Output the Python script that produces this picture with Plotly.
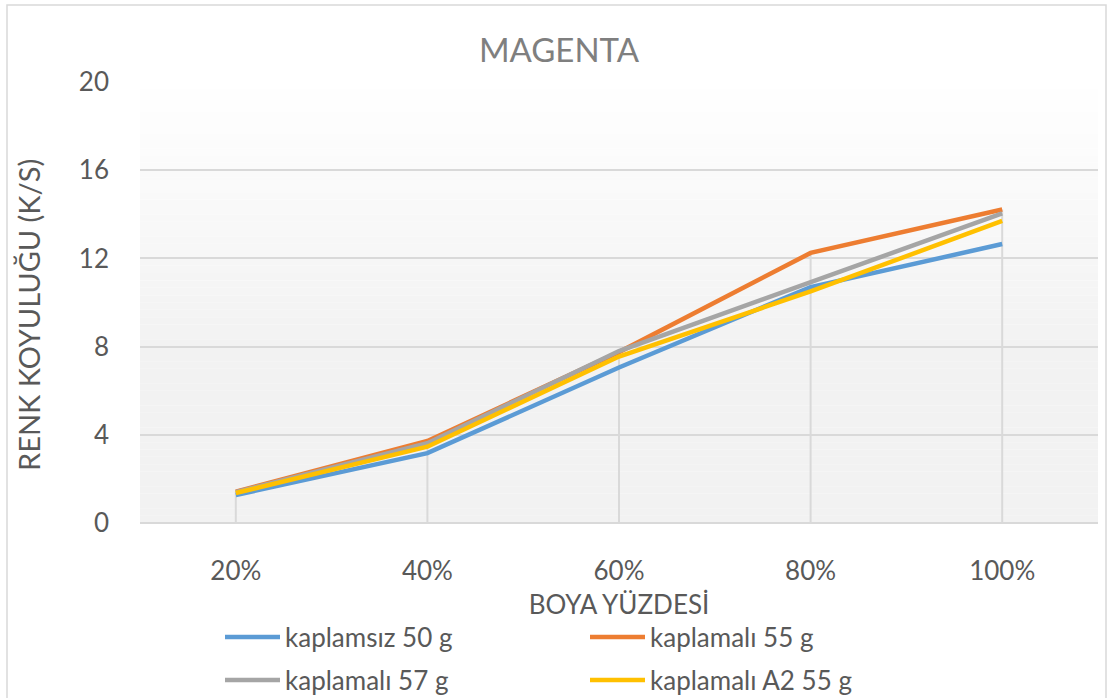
import plotly.graph_objects as go

# Dye percentage categories and K/S colour strength per sample
categories = ["20%", "40%", "60%", "80%", "100%"]
series_names = ["kaplamsız 50 g", "kaplamalı 55 g", "kaplamalı 57 g", "kaplamalı A2 55 g"]
kaplamsiz_50 = [1.27, 3.17, 7.05, 10.7, 12.65]
kaplamali_55 = [1.42, 3.72, 7.75, 12.25, 14.22]
kaplamali_57 = [1.40, 3.62, 7.80, 10.9, 14.04]
kaplamali_a2_55 = [1.36, 3.46, 7.55, 10.5, 13.70]
series_values = [kaplamsiz_50, kaplamali_55, kaplamali_57, kaplamali_a2_55]
series_colors = ["#5b9bd5", "#ed7d31", "#a5a5a5", "#ffc000"]
y_ticks = [0, 4, 8, 12, 16, 20]

W, H = 1107, 698
L, R, T, B = 140, 9, 82, 175
PW, PH = W - L - R, H - T - B
FONT = "Lato"


def px_x(p):
    return (p - L) / PW


def px_y(p):
    return (H - B - p) / PH


fig = go.Figure()

# Drop lines from the highest value of each category down to the axis
drop_x, drop_y = [], []
for i, c in enumerate(categories):
    top = max(s[i] for s in series_values)
    drop_x += [c, c, None]
    drop_y += [0, top, None]
fig.add_trace(go.Scatter(x=drop_x, y=drop_y, mode="lines",
                         line=dict(color="#d9d9d9", width=2),
                         hoverinfo="skip", showlegend=False))

for name, vals, col in zip(series_names, series_values, series_colors):
    fig.add_trace(go.Scatter(x=categories, y=vals, mode="lines", name=name,
                             line=dict(color=col, width=4.5), showlegend=False))

shapes = []
# Plot area fill: white at the top fading to light grey
n_bands = 60
fade_end = 0.6
for k in range(n_bands):
    y1 = 1 - k / n_bands
    y0 = 1 - (k + 1) / n_bands
    depth = min((1 - (y0 + y1) / 2) / fade_end, 1.0)
    g = round(255 - 13 * depth)
    shapes.append(dict(type="rect", xref="paper", yref="paper", x0=0, x1=1,
                       y0=y0, y1=y1, fillcolor=f"rgb({g},{g},{g})",
                       line=dict(width=0), layer="below"))

# Chart frame
shapes.append(dict(type="rect", xref="paper", yref="paper",
                   x0=px_x(7), x1=px_x(1106), y0=px_y(720), y1=px_y(5),
                   line=dict(color="#d9d9d9", width=1.5), fillcolor="rgba(0,0,0,0)",
                   layer="above"))

annotations = []
# Legend in two columns
legend_pos = [(225, 637), (590, 637), (225, 680), (590, 680)]
for (lx, ly), name, col in zip(legend_pos, series_names, series_colors):
    shapes.append(dict(type="line", xref="paper", yref="paper",
                       x0=px_x(lx), x1=px_x(lx + 55), y0=px_y(ly), y1=px_y(ly),
                       line=dict(color=col, width=4.5), layer="above"))
    annotations.append(dict(text=name, xref="paper", yref="paper",
                            x=px_x(lx + 58), y=px_y(ly), xanchor="left", yanchor="middle",
                            showarrow=False, font=dict(family=FONT, size=26, color="#595959")))

# Vertical axis title
annotations.append(dict(text="RENK KOYULUĞU (K/S)", xref="paper", yref="paper",
                        x=px_x(28), y=px_y(315), xanchor="center", yanchor="middle",
                        textangle=-90, showarrow=False,
                        font=dict(family=FONT, size=29, color="#595959")))

fig.update_layout(
    width=W, height=H,
    margin=dict(l=L, r=R, t=T, b=B),
    paper_bgcolor="white", plot_bgcolor="rgba(0,0,0,0)",
    title=dict(text="MAGENTA", x=(478 + 640) / 2 / W, xanchor="center",
               y=1 - 50 / H, yanchor="middle",
               font=dict(family=FONT, size=33, color="#7f7f7f")),
    shapes=shapes, annotations=annotations,
    showlegend=False,
)
fig.update_xaxes(type="category", range=[-0.5, len(categories) - 0.5],
                 showgrid=False, showline=False, zeroline=False, ticks="",
                 ticklabelstandoff=30,
                 tickfont=dict(family=FONT, size=26, color="#595959"),
                 title=dict(text="BOYA YÜZDESİ", standoff=10,
                            font=dict(family=FONT, size=26, color="#595959")))
fig.update_yaxes(range=[0, 20], tickvals=y_ticks, showgrid=True,
                 gridcolor="#d9d9d9", gridwidth=2, zeroline=True,
                 zerolinecolor="#d9d9d9", zerolinewidth=2, showline=False,
                 ticks="", ticklabelstandoff=30,
                 tickfont=dict(family=FONT, size=26, color="#595959"))

fig.write_html("out.html")
